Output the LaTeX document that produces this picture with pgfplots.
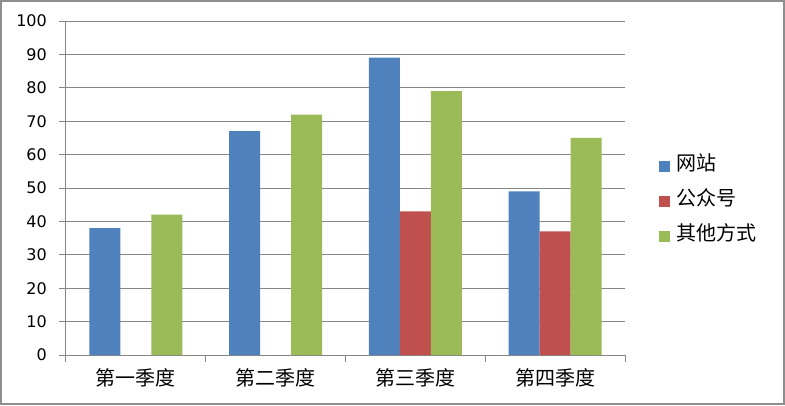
\documentclass[border=0pt]{standalone}
\usepackage{pgfplots}
\pgfplotsset{compat=1.18}
\usepackage{fontspec}
\setmainfont{DejaVu Sans}
\newfontfamily\cjk{Noto Sans CJK SC}
\definecolor{cBlue}{HTML}{4F81BD}
\definecolor{cRed}{HTML}{C0504D}
\definecolor{cGreen}{HTML}{9BBB59}
\definecolor{cGrid}{HTML}{868686}
\definecolor{cFrame}{HTML}{8E8E8E}

\begin{document}
\begin{tikzpicture}
\useasboundingbox (0pt,0pt) rectangle (785pt,-405pt);
\draw[cFrame, line width=2pt] (1pt,-1pt) rectangle (784pt,-404pt);
\begin{axis}[
  at={(66pt,-355pt)}, anchor=south west,
  scale only axis, width=559pt, height=334pt,
  ybar=0pt, bar width=0.222,
  xmin=-0.5, xmax=3.5, ymin=0, ymax=100,
  xtick={-0.5,0.5,1.5,2.5,3.5},
  xticklabels={,,,,},
  extra x ticks={0,1,2,3},
  extra x tick labels={第一季度,第二季度,第三季度,第四季度},
  extra x tick style={major tick length=0pt,
    xticklabel style={font=\cjk\fontsize{20}{24}\selectfont, inner sep=0pt, yshift=-13pt}},
  ytick={0,10,...,100},
  axis x line*=bottom, axis y line*=left,
  axis line style={cGrid, line width=1pt, -},
  ymajorgrids, grid style={cGrid, line width=1pt},
  tick style={cGrid, line width=1pt},
  tick align=outside, major tick length=7pt,
  /pgf/number format/assume math mode=true,
  yticklabel style={font=\fontsize{16}{19}\selectfont, inner sep=0pt, xshift=-12pt},
  legend style={draw=none, fill=none, at={(axis description cs:1.0608,0.596)},
    anchor=north west, inner sep=0pt, outer sep=0pt, row sep=15pt,
    font=\cjk\fontsize{20}{24}\selectfont,
    nodes={inner sep=0pt, text height=15pt, text depth=5pt},
    /tikz/every odd column/.append style={column sep=6pt}},
  legend cell align=left,
  legend image code/.code={\fill[#1] (0pt,-6.5pt) rectangle (11.5pt,5pt);},
]
\addplot[fill=cBlue, draw=none] coordinates {(0,38) (1,67) (2,89) (3,49)};
\addplot[fill=cRed, draw=none] coordinates {(2,43) (3,37)};
\addplot[fill=cGreen, draw=none] coordinates {(0,42) (1,72) (2,79) (3,65)};
\legend{网站,公众号,其他方式}
\end{axis}
\end{tikzpicture}
\end{document}
